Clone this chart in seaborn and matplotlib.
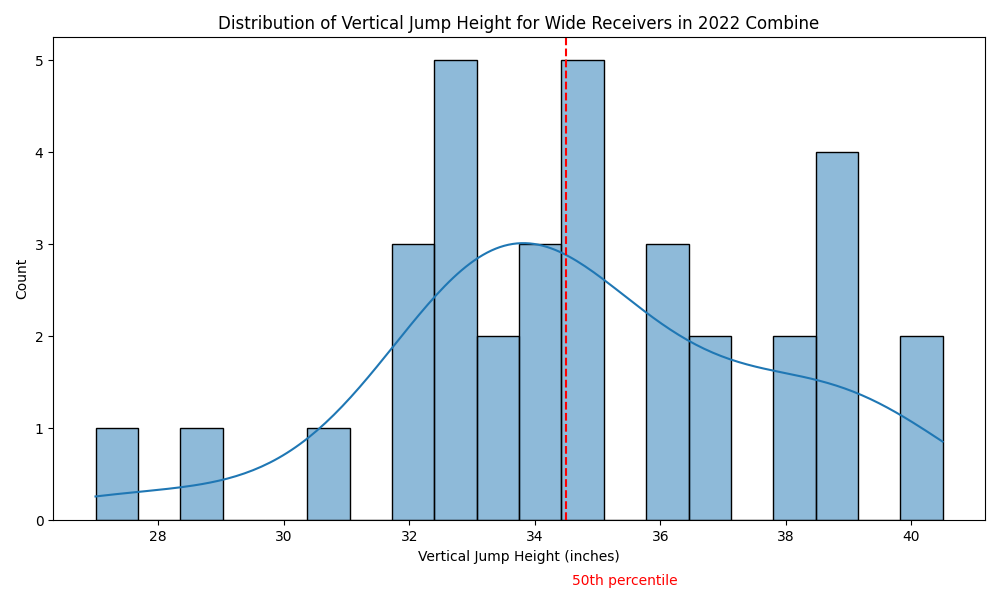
import numpy as np
import pandas as pd
import matplotlib
matplotlib.use("Agg")
import matplotlib.pyplot as plt
import seaborn as sns

# vertical jump results (inches) for WRs
vertical_jump = [27.0, 29.0, 31.0,
                 32.0, 32.0, 32.0,
                 33.0, 33.0, 33.0, 33.0, 33.0,
                 33.5, 33.5,
                 34.0, 34.0, 34.0,
                 34.5, 34.5, 34.5, 34.5, 34.5,
                 36.0, 36.0, 36.0,
                 36.5, 36.5,
                 38.0, 38.0,
                 38.5, 39.0, 39.0, 39.0,
                 40.0, 40.5]

df = pd.DataFrame({"vertical": vertical_jump})
median = df["vertical"].median()

plt.figure(figsize=(10, 6))
sns.histplot(df["vertical"], bins=20, kde=True)
plt.axvline(median, color="red", linestyle="--")
plt.text(median + 0.1, -0.7, "50th percentile", color="red")
plt.title("Distribution of Vertical Jump Height for Wide Receivers in 2022 Combine")
plt.xlabel("Vertical Jump Height (inches)")
plt.ylabel("Count")
plt.tight_layout()
plt.savefig("out.png")
plt.close()
